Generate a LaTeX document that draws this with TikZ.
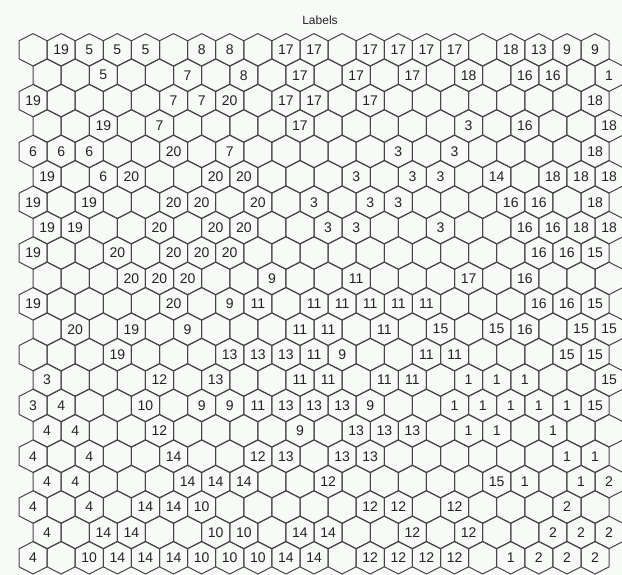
\documentclass[tikz,border=0pt]{standalone}
\usepackage{fontspec}
\setmainfont{Liberation Sans}
\definecolor{bgc}{RGB}{247,250,247}
\definecolor{hexline}{RGB}{70,70,70}
\definecolor{txt}{RGB}{35,35,35}
\begin{document}
\begin{tikzpicture}[x=1pt,y=-1pt,
  hexcell/.style={draw=hexline,line width=1pt,line join=miter},
  cellnum/.style={font=\fontsize{14}{14}\selectfont,text=txt,inner sep=0pt,anchor=center},
  titlestyle/.style={font=\fontsize{12}{12}\selectfont,text=txt,inner sep=0pt}]
\fill[bgc] (0,0) rectangle (622,575);
\useasboundingbox (0,0) rectangle (622,575);
\node[titlestyle] (title) at (320,20) {Labels};
\def\emptymark{-}
\foreach \r/\lst in {
 1/{-,19,5,5,5,-,8,8,-,17,17,-,17,17,17,17,-,18,13,9,9},
 2/{-,-,5,-,-,7,-,8,-,17,-,17,-,17,-,18,-,16,16,-,1},
 3/{19,-,-,-,-,7,7,20,-,17,17,-,17,-,-,-,-,-,-,-,18},
 4/{-,-,19,-,7,-,-,-,-,17,-,-,-,-,-,3,-,16,-,-,18},
 5/{6,6,6,-,-,20,-,7,-,-,-,-,-,3,-,3,-,-,-,-,18},
 6/{19,-,6,20,-,-,20,20,-,-,-,3,-,3,3,-,14,-,18,18,18},
 7/{19,-,19,-,-,20,20,-,20,-,3,-,3,3,-,-,-,16,16,-,18},
 8/{19,19,-,-,20,-,20,20,-,-,3,3,-,-,3,-,-,16,16,18,18},
 9/{19,-,-,20,-,20,20,20,-,-,-,-,-,-,-,-,-,-,16,16,15},
 10/{-,-,-,20,20,20,-,-,9,-,-,11,-,-,-,17,-,16,-,-,-},
 11/{19,-,-,-,-,20,-,9,11,-,11,11,11,11,11,-,-,-,16,16,15},
 12/{-,20,-,19,-,9,-,-,-,11,11,-,11,-,15,-,15,16,-,15,15},
 13/{-,-,-,19,-,-,-,13,13,13,11,9,-,-,11,11,-,-,-,15,15},
 14/{3,-,-,-,12,-,13,-,-,11,11,-,11,11,-,1,1,1,-,-,15},
 15/{3,4,-,-,10,-,9,9,11,13,13,13,9,-,-,1,1,1,1,1,15},
 16/{4,4,-,-,12,-,-,-,-,9,-,13,13,13,-,1,1,-,1,-,-},
 17/{4,-,4,-,-,14,-,-,12,13,-,13,13,-,-,-,-,-,-,1,1},
 18/{4,4,-,-,-,14,14,14,-,-,12,-,-,-,-,-,15,1,-,1,2},
 19/{4,-,4,-,14,14,10,-,-,-,-,-,12,12,-,12,-,-,-,2,-},
 20/{4,-,14,14,-,-,10,10,-,14,14,-,-,12,-,12,-,-,2,2,2},
 21/{4,-,10,14,14,14,10,10,10,14,14,-,12,12,12,12,-,1,2,2,2}}{
  \pgfmathsetmacro{\cy}{49.8+(\r-1)*25.4}
  \pgfmathsetmacro{\off}{mod(\r+1,2)*14.05}
  \foreach \v [count=\k] in \lst {
    \pgfmathsetmacro{\cx}{4.95+28.1*\k+\off}
    \draw[hexcell] (\cx,\cy-16.2) -- ++(14.05,7.2) -- ++(0,18) -- ++(-14.05,7.2) -- ++(-14.05,-7.2) -- ++(0,-18) -- cycle;
    \edef\tmpv{\v}
    \ifx\tmpv\emptymark\else
      \node[cellnum] (c-\r-\k) at (\cx,\cy) {\v};
    \fi
  }
}
\end{tikzpicture}
\end{document}
